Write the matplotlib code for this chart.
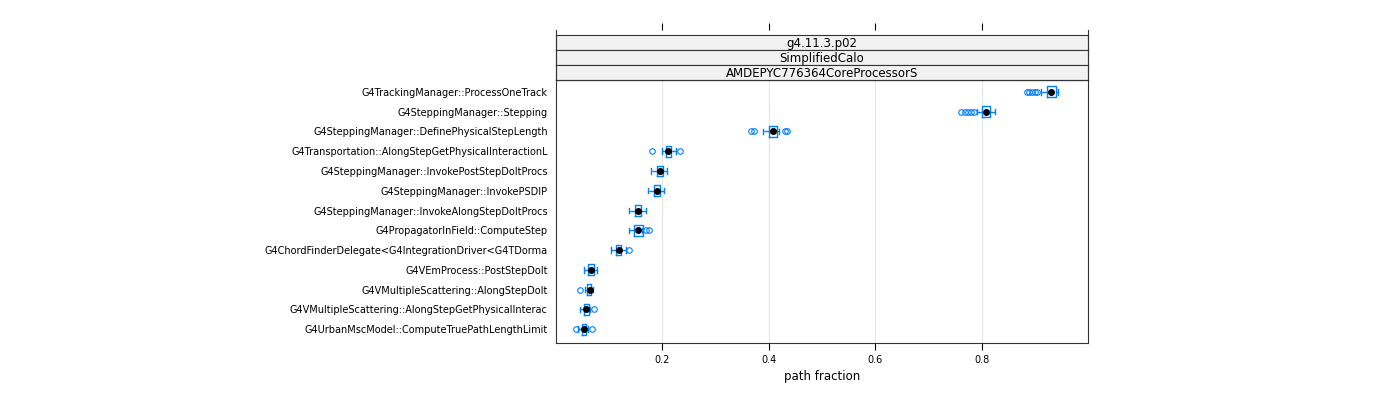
import matplotlib
matplotlib.use("Agg")
import matplotlib.pyplot as plt

labels = ["G4TrackingManager::ProcessOneTrack","G4SteppingManager::Stepping",
"G4SteppingManager::DefinePhysicalStepLength","G4Transportation::AlongStepGetPhysicalInteractionL",
"G4SteppingManager::InvokePostStepDoItProcs","G4SteppingManager::InvokePSDIP",
"G4SteppingManager::InvokeAlongStepDoItProcs","G4PropagatorInField::ComputeStep",
"G4ChordFinderDelegate<G4IntegrationDriver<G4TDorma","G4VEmProcess::PostStepDoIt",
"G4VMultipleScattering::AlongStepDoIt","G4VMultipleScattering::AlongStepGetPhysicalInterac",
"G4UrbanMscModel::ComputeTruePathLengthLimit"]
med = [0.930,0.808,0.407,0.211,0.196,0.190,0.154,0.155,0.118,0.066,0.063,0.057,0.052]
q1 =  [0.922,0.800,0.400,0.206,0.190,0.185,0.149,0.146,0.112,0.061,0.059,0.052,0.048]
q3 =  [0.940,0.815,0.415,0.217,0.202,0.196,0.159,0.164,0.123,0.072,0.066,0.062,0.057]
wlo = [0.912,0.791,0.390,0.199,0.178,0.173,0.137,0.138,0.103,0.053,0.055,0.046,0.042]
whi = [0.944,0.825,0.420,0.226,0.209,0.203,0.170,0.162,0.131,0.078,0.070,0.064,0.060]
fliers = [[0.885,0.89,0.895,0.90,0.905],[0.762,0.768,0.774,0.78,0.785],[0.367,0.373,0.43,0.435],
[0.181,0.234],[],[],[],[0.17,0.175],[0.137],[],[0.046],[0.072],[0.037,0.067]]
strips = ["g4.11.3.p02","SimplifiedCalo","AMDEPYC776364CoreProcessorS"]

blue = "#0080ff"
fig = plt.figure(figsize=(14,4), dpi=100)
L, R = 556/1400, 1088/1400
ax = fig.add_axes([L, 1-343/400, R-L, (343-80)/400])
n = len(labels)
stats = []
for i in range(n):
    stats.append(dict(med=med[i], q1=q1[i], q3=q3[i], whislo=wlo[i], whishi=whi[i], fliers=fliers[i]))
pos = list(range(n, 0, -1))
ax.bxp(stats, positions=pos, vert=False, widths=0.55, showfliers=True,
       boxprops=dict(color=blue, lw=1), whiskerprops=dict(color=blue, ls="--", lw=1),
       capprops=dict(color=blue, lw=1), medianprops=dict(lw=0),
       flierprops=dict(marker="o", mfc="none", mec=blue, ms=4, mew=0.8))
ax.plot(med, pos, "o", color="black", ms=4, zorder=5)
ax.set_xlim(0, 1.0)
ax.set_ylim(0.3, n+0.6)
ax.set_yticks(pos)
ax.set_yticklabels(labels, fontsize=7)
ax.set_xticks([0.2,0.4,0.6,0.8])
ax.set_xticklabels(["0.2","0.4","0.6","0.8"], fontsize=7)
for x in [0.2,0.4,0.6,0.8]:
    ax.axvline(x, color="#e6e6e6", lw=0.8, zorder=0)
ax.tick_params(axis="y", length=0, pad=6)
ax.tick_params(axis="x", length=5, direction="out")
ax.set_xlabel("path fraction", fontsize=8.5)
for s in ax.spines.values():
    s.set_color("#333333")
# strips
sh = 15/400
for j, t in enumerate(strips):
    y0 = 1-80/400 + (2-j)*sh
    sa = fig.add_axes([L, y0, R-L, sh])
    sa.set_facecolor("#f2f2f2")
    sa.set_xticks([]); sa.set_yticks([])
    sa.text(0.5, 0.45, t, ha="center", va="center", fontsize=8.5, transform=sa.transAxes)
    for s in sa.spines.values():
        s.set_color("#333333")
# top ticks
ta = fig.add_axes([L, 1-80/400, R-L, 50/400], facecolor="none")
ta.set_xlim(0,1); ta.set_ylim(0,1)
ta.set_xticks([0.2,0.4,0.6,0.8]); ta.set_yticks([])
ta.xaxis.tick_top(); ta.tick_params(axis="x", length=5, labeltop=False)
for k in ["left","right","bottom"]:
    ta.spines[k].set_color("#333333")
ta.spines["top"].set_visible(False)
fig.savefig("out.png", dpi=100)
